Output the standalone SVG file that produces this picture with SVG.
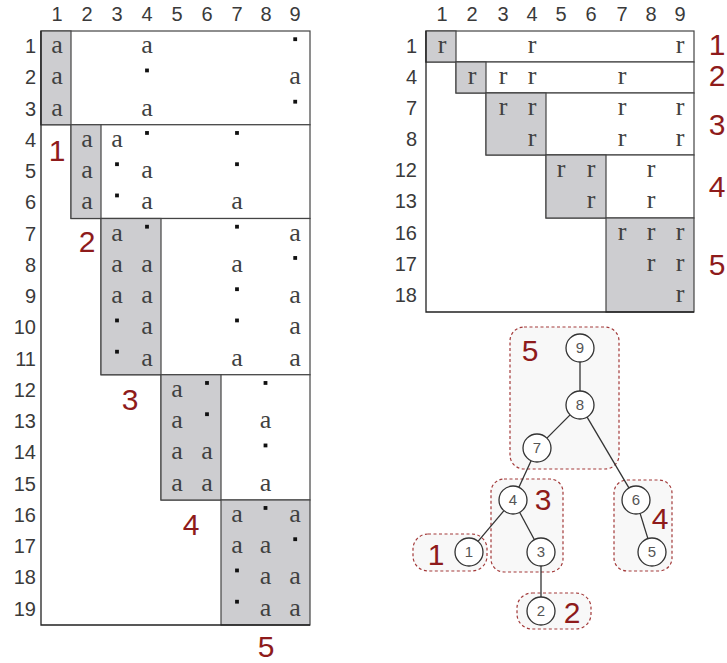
<svg xmlns="http://www.w3.org/2000/svg" width="727" height="663" viewBox="0 0 727 663">
<style>
.hd{font-family:"Liberation Sans","DejaVu Sans",sans-serif;font-size:20px;fill:#3a3a3a;text-anchor:middle}
.rl{font-family:"Liberation Sans","DejaVu Sans",sans-serif;font-size:20px;fill:#3a3a3a;text-anchor:end}
.red{font-family:"Liberation Sans","DejaVu Sans",sans-serif;font-size:30px;fill:#8e1b1b;text-anchor:middle}
.m{font-family:"Liberation Serif","DejaVu Serif",serif;font-size:26px;fill:#404040;text-anchor:middle}
.pan{fill:#fff;stroke:#444;stroke-width:1.2}
.blk{fill:#cdcdd0;stroke:#444;stroke-width:1.2}
.ol{stroke:#222;stroke-width:1.3;fill:none}
.d{fill:#111}
.grp{fill:#f8f8f8;stroke:#a33a3a;stroke-width:1.2;stroke-dasharray:3 2.5}
.nc{fill:#fff;stroke:#333;stroke-width:1.3}
.nt{font-family:"Liberation Sans","DejaVu Sans",sans-serif;font-size:15px;fill:#555;text-anchor:middle}
.e{stroke:#333;stroke-width:1.3;fill:none}
</style>
<defs>
<rect id="dt" width="3.8" height="3.8" class="d"/>
</defs>

<!-- LEFT MATRIX -->
<g id="left-matrix">
<g id="L-headers">
<text class="hd" x="57" y="21">1</text><text class="hd" x="87" y="21">2</text><text class="hd" x="117" y="21">3</text><text class="hd" x="147" y="21">4</text><text class="hd" x="177" y="21">5</text><text class="hd" x="207" y="21">6</text><text class="hd" x="237" y="21">7</text><text class="hd" x="266" y="21">8</text><text class="hd" x="295" y="21">9</text>
<text class="rl" x="36" y="53">1</text><text class="rl" x="36" y="84.25">2</text><text class="rl" x="36" y="115.5">3</text><text class="rl" x="36" y="146.75">4</text><text class="rl" x="36" y="178">5</text><text class="rl" x="36" y="209.25">6</text><text class="rl" x="36" y="240.5">7</text><text class="rl" x="36" y="271.75">8</text><text class="rl" x="36" y="303">9</text><text class="rl" x="36" y="334.25">10</text><text class="rl" x="36" y="365.5">11</text><text class="rl" x="36" y="396.75">12</text><text class="rl" x="36" y="428">13</text><text class="rl" x="36" y="459.25">14</text><text class="rl" x="36" y="490.5">15</text><text class="rl" x="36" y="521.75">16</text><text class="rl" x="36" y="553">17</text><text class="rl" x="36" y="584.25">18</text><text class="rl" x="36" y="615.5">19</text>
</g>
<g id="L-sn1"><rect class="pan" x="41" y="31" width="269" height="93.75"/><rect class="blk" x="41" y="31" width="30" height="93.75"/></g>
<g id="L-sn2"><rect class="pan" x="71" y="124.75" width="239" height="93.75"/><rect class="blk" x="71" y="124.75" width="30" height="93.75"/></g>
<g id="L-sn3"><rect class="pan" x="101" y="218.5" width="209" height="156.25"/><rect class="blk" x="101" y="218.5" width="60" height="156.25"/></g>
<g id="L-sn4"><rect class="pan" x="161" y="374.75" width="149" height="125.25"/><rect class="blk" x="161" y="374.75" width="60" height="125.25"/></g>
<g id="L-sn5"><rect class="blk" x="221" y="500" width="89" height="125"/></g>
<path class="ol" d="M41 31V625H310"/>
<g id="L-entries">
<text class="m" x="57" y="53">a</text><text class="m" x="147" y="53">a</text><use href="#dt" x="293.3" y="37.3"/>
<text class="m" x="57" y="84.25">a</text><use href="#dt" x="145.1" y="68.55"/><text class="m" x="295" y="84.25">a</text>
<text class="m" x="57" y="115.5">a</text><text class="m" x="147" y="115.5">a</text><use href="#dt" x="293.3" y="99.8"/>
<text class="m" x="87" y="146.75">a</text><text class="m" x="117" y="146.75">a</text><use href="#dt" x="145.1" y="131.05"/><use href="#dt" x="235.1" y="131.05"/>
<text class="m" x="87" y="178">a</text><use href="#dt" x="115.1" y="162.3"/><text class="m" x="147" y="178">a</text><use href="#dt" x="235.1" y="162.3"/>
<text class="m" x="87" y="209.25">a</text><use href="#dt" x="115.1" y="193.55"/><text class="m" x="147" y="209.25">a</text><text class="m" x="237" y="209.25">a</text>
<text class="m" x="117" y="240.5">a</text><use href="#dt" x="145.1" y="224.8"/><use href="#dt" x="235.1" y="224.8"/><text class="m" x="295" y="240.5">a</text>
<text class="m" x="117" y="271.75">a</text><text class="m" x="147" y="271.75">a</text><text class="m" x="237" y="271.75">a</text><use href="#dt" x="293.3" y="256.05"/>
<text class="m" x="117" y="303">a</text><text class="m" x="147" y="303">a</text><use href="#dt" x="235.1" y="287.3"/><text class="m" x="295" y="303">a</text>
<use href="#dt" x="115.1" y="318.55"/><text class="m" x="147" y="334.25">a</text><use href="#dt" x="235.1" y="318.55"/><text class="m" x="295" y="334.25">a</text>
<use href="#dt" x="115.1" y="349.8"/><text class="m" x="147" y="365.5">a</text><text class="m" x="237" y="365.5">a</text><text class="m" x="295" y="365.5">a</text>
<text class="m" x="177" y="396.75">a</text><use href="#dt" x="205.1" y="381.05"/><use href="#dt" x="263.6" y="381.05"/>
<text class="m" x="177" y="428">a</text><use href="#dt" x="205.1" y="412.3"/><text class="m" x="265.5" y="428">a</text>
<text class="m" x="177" y="459.25">a</text><text class="m" x="207" y="459.25">a</text><use href="#dt" x="263.6" y="443.55"/>
<text class="m" x="177" y="490.5">a</text><text class="m" x="207" y="490.5">a</text><text class="m" x="265.5" y="490.5">a</text>
<text class="m" x="237" y="521.75">a</text><use href="#dt" x="263.6" y="506.05"/><text class="m" x="295" y="521.75">a</text>
<text class="m" x="237" y="553">a</text><text class="m" x="265.5" y="553">a</text><use href="#dt" x="293.3" y="537.3"/>
<use href="#dt" x="235.1" y="568.55"/><text class="m" x="265.5" y="584.25">a</text><text class="m" x="295" y="584.25">a</text>
<use href="#dt" x="235.1" y="599.8"/><text class="m" x="265.5" y="615.5">a</text><text class="m" x="295" y="615.5">a</text>
</g>
<g id="L-labels">
<text class="red" x="57" y="161">1</text><text class="red" x="87" y="252">2</text><text class="red" x="130" y="410">3</text><text class="red" x="191" y="535">4</text><text class="red" x="266" y="657">5</text>
</g>
</g>

<!-- RIGHT MATRIX -->
<g id="right-matrix">
<g id="R-headers">
<text class="hd" x="442" y="21">1</text><text class="hd" x="472" y="21">2</text><text class="hd" x="503" y="21">3</text><text class="hd" x="532" y="21">4</text><text class="hd" x="561" y="21">5</text><text class="hd" x="591" y="21">6</text><text class="hd" x="622" y="21">7</text><text class="hd" x="651" y="21">8</text><text class="hd" x="680" y="21">9</text>
<text class="rl" x="417" y="53">1</text><text class="rl" x="417" y="84">4</text><text class="rl" x="417" y="115">7</text><text class="rl" x="417" y="146">8</text><text class="rl" x="417" y="177">12</text><text class="rl" x="417" y="208">13</text><text class="rl" x="417" y="240">16</text><text class="rl" x="417" y="271">17</text><text class="rl" x="417" y="302">18</text>
</g>
<g id="R-sn1"><rect class="pan" x="426" y="31" width="268" height="31"/><rect class="blk" x="426" y="31" width="30" height="31"/></g>
<g id="R-sn2"><rect class="pan" x="456" y="62" width="238" height="31"/><rect class="blk" x="456" y="62" width="30" height="31"/></g>
<g id="R-sn3"><rect class="pan" x="486" y="93" width="208" height="62"/><rect class="blk" x="486" y="93" width="60" height="62"/></g>
<g id="R-sn4"><rect class="pan" x="546" y="155" width="148" height="63"/><rect class="blk" x="546" y="155" width="60" height="63"/></g>
<g id="R-sn5"><rect class="blk" x="606" y="218" width="88" height="94"/></g>
<path class="ol" d="M426 31V312H694"/>
<g id="R-entries">
<text class="m" x="442" y="53">r</text><text class="m" x="532" y="53">r</text><text class="m" x="680" y="53">r</text>
<text class="m" x="472" y="84">r</text><text class="m" x="503" y="84">r</text><text class="m" x="532" y="84">r</text><text class="m" x="622" y="84">r</text>
<text class="m" x="503" y="115">r</text><text class="m" x="532" y="115">r</text><text class="m" x="622" y="115">r</text><text class="m" x="680" y="115">r</text>
<text class="m" x="532" y="146">r</text><text class="m" x="622" y="146">r</text><text class="m" x="680" y="146">r</text>
<text class="m" x="561" y="177">r</text><text class="m" x="591" y="177">r</text><text class="m" x="651" y="177">r</text>
<text class="m" x="591" y="208">r</text><text class="m" x="651" y="208">r</text>
<text class="m" x="622" y="240">r</text><text class="m" x="651" y="240">r</text><text class="m" x="680" y="240">r</text>
<text class="m" x="651" y="271">r</text><text class="m" x="680" y="271">r</text>
<text class="m" x="680" y="302">r</text>
</g>
<g id="R-labels">
<text class="red" x="717" y="55">1</text><text class="red" x="717" y="86">2</text><text class="red" x="717" y="135">3</text><text class="red" x="717" y="197">4</text><text class="red" x="717" y="275">5</text>
</g>
</g>

<!-- TREE -->
<g id="tree">
<g id="groups">
<g id="grp5"><rect class="grp" x="510" y="327" width="109" height="142" rx="14"/><text class="red" x="530" y="361">5</text></g>
<g id="grp3"><rect class="grp" x="491" y="479" width="72" height="93" rx="13"/><text class="red" x="543" y="510">3</text></g>
<g id="grp4"><rect class="grp" x="614" y="480" width="58" height="91" rx="13"/><text class="red" x="660" y="529">4</text></g>
<g id="grp1"><rect class="grp" x="413" y="534" width="74" height="37" rx="15"/><text class="red" x="436" y="565">1</text></g>
<g id="grp2"><rect class="grp" x="517" y="593" width="74" height="36" rx="15"/><text class="red" x="572" y="623">2</text></g>
</g>
<g id="connectors">
<line class="e" x1="580" y1="362" x2="580" y2="391"/>
<line class="e" x1="570.1" y1="414.9" x2="546.9" y2="438.1"/>
<line class="e" x1="587.1" y1="417.1" x2="628.9" y2="487.9"/>
<line class="e" x1="531.1" y1="460.7" x2="518.9" y2="487.3"/>
<line class="e" x1="504" y1="510.7" x2="478" y2="541.3"/>
<line class="e" x1="519.6" y1="512.3" x2="534.4" y2="539.7"/>
<line class="e" x1="541" y1="566" x2="541" y2="597"/>
<line class="e" x1="640.1" y1="513.4" x2="647.9" y2="538.6"/>
</g>
<g id="n9"><circle class="nc" cx="580" cy="348" r="14"/><text class="nt" x="580" y="353">9</text></g>
<g id="n8"><circle class="nc" cx="580" cy="405" r="14"/><text class="nt" x="580" y="410">8</text></g>
<g id="n7"><circle class="nc" cx="537" cy="448" r="14"/><text class="nt" x="537" y="453">7</text></g>
<g id="n4"><circle class="nc" cx="513" cy="500" r="14"/><text class="nt" x="513" y="505">4</text></g>
<g id="n3"><circle class="nc" cx="541" cy="552" r="14"/><text class="nt" x="541" y="557">3</text></g>
<g id="n1"><circle class="nc" cx="469" cy="552" r="14"/><text class="nt" x="469" y="557">1</text></g>
<g id="n2"><circle class="nc" cx="541" cy="611" r="14"/><text class="nt" x="541" y="616">2</text></g>
<g id="n6"><circle class="nc" cx="636" cy="500" r="14"/><text class="nt" x="636" y="505">6</text></g>
<g id="n5"><circle class="nc" cx="652" cy="552" r="14"/><text class="nt" x="652" y="557">5</text></g>
</g>
</svg>
